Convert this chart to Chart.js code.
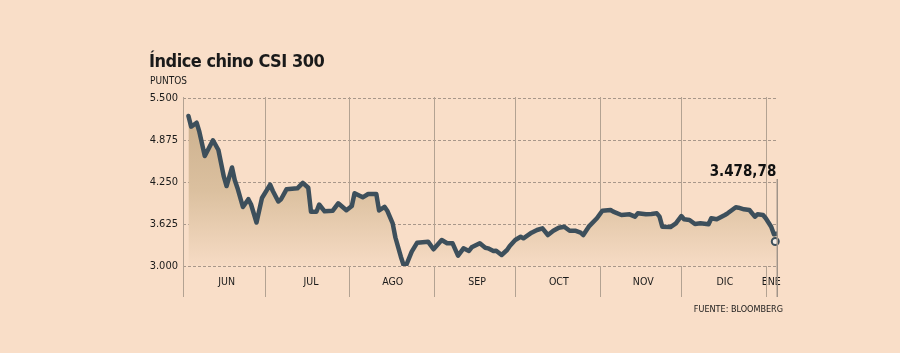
<!DOCTYPE html>
<html lang="es">
<head>
<meta charset="utf-8">
<title>Índice chino CSI 300</title>
<script src="https://cdn.jsdelivr.net/npm/chart.js@4.4.1/dist/chart.umd.min.js"></script>
<style>
    body { margin: 0; background: #f9dec8; }
    #wrap { position: relative; width: 900px; height: 353px; overflow: hidden; }
    #chart { position: absolute; left: 0; top: 0; }
    .txt { position: absolute; font-family: "DejaVu Sans Condensed", "DejaVu Sans", sans-serif; color: #1a1a1a; white-space: nowrap; }
    #title { left: 149px; top: 50px; font-size: 18px; font-weight: bold; letter-spacing: -0.5px; }
    #unit { left: 150px; top: 75px; font-size: 10px; }
    #source { right: 117px; top: 304px; font-size: 9px; }
</style>
</head>
<body>
<div id="wrap">
    <canvas id="chart" width="900" height="353"></canvas>
    <div class="txt" id="title">Índice chino CSI 300</div>
    <div class="txt" id="unit">PUNTOS</div>
    <div class="txt" id="source">FUENTE: BLOOMBERG</div>
</div>

<script>
/* ===================================================== */
/* DATA                                                    */
/* ===================================================== */

// días desde el 1 de junio de 2015
const days = [
    2, 3, 5, 6, 8, 11, 13, 15, 16, 18, 19, 20, 22, 24, 25, 27, 29,
    32, 33, 35, 36, 38, 42, 44, 46, 47, 49, 50, 52, 55, 57, 60,
    62, 63, 66, 68, 71, 72, 74, 75, 77, 78, 80, 81, 82, 84, 86, 90,
    92, 95, 97, 99, 101, 103, 105, 106, 109, 111, 112, 114, 115, 117, 119, 120,
    122, 124, 125, 128, 130, 132, 134, 136, 138, 140, 142, 144, 146, 147, 149,
    152, 154, 157, 158, 161, 164, 166, 167, 170, 172, 174, 175, 176, 179, 181,
    183, 184, 186, 188, 190, 193, 194, 196, 199, 200, 203, 204, 206, 208, 210, 211, 213,
    214, 216, 217, 218
];

const points = [
    5232, 5073, 5132, 4999, 4637, 4871, 4726, 4329, 4190, 4466, 4280, 4161, 3878, 3994, 3915, 3647, 4012,
    4210, 4116, 3960, 3993, 4141, 4156, 4238, 4164, 3808, 3808, 3915, 3814, 3823, 3933, 3829,
    3893, 4082, 4022, 4071, 4071, 3826, 3881, 3823, 3635, 3424, 3138, 3015, 3015, 3213, 3347, 3362,
    3249, 3387, 3338, 3338, 3153, 3263, 3223, 3278, 3338, 3272, 3263, 3223, 3228, 3164, 3238, 3298,
    3387, 3436, 3412, 3496, 3536, 3561, 3461, 3525, 3570, 3585, 3525, 3525, 3496, 3461, 3585,
    3710, 3823, 3833, 3808, 3759, 3769, 3734, 3784, 3769, 3774, 3784, 3734, 3585, 3580, 3635,
    3744, 3695, 3685, 3625, 3635, 3621, 3710, 3695, 3759, 3784, 3874, 3868, 3844, 3833, 3734, 3769, 3759,
    3710, 3585, 3472, 3479
];

const lastDay = 217.5;
const lastMarker = 3365;
const lastLabel = '3.478,78';

const monthStarts = [0, 30, 61, 92, 122, 153, 183, 214];
const monthMids = [16, 47, 77, 108, 138, 169, 199, 216];
const monthLabels = ['JUN', 'JUL', 'AGO', 'SEP', 'OCT', 'NOV', 'DIC', 'ENE'];

const yTicks = [3000, 3625, 4250, 4875, 5500];

/* ===================================================== */
/* HELPERS                                                 */
/* ===================================================== */

const FONT = '"DejaVu Sans Condensed", "DejaVu Sans", sans-serif';
const LINE = '#3d4f5b';

function formatPoints(value) {
    return new Intl.NumberFormat('de-DE').format(value);
}

function areaGradient(context) {
    const { ctx, chartArea } = context.chart;
    if (!chartArea) return 'rgba(0,0,0,0)';
    const g = ctx.createLinearGradient(0, chartArea.top, 0, chartArea.bottom);
    g.addColorStop(0, '#c9ad8a');
    g.addColorStop(0.55, '#dbc09f');
    g.addColorStop(1, '#f6dbc4');
    return g;
}

/* ===================================================== */
/* PLUGINS                                                 */
/* ===================================================== */

const monthLines = {
    id: 'monthLines',
    beforeDatasetsDraw(chart) {
        const { ctx, chartArea, scales } = chart;
        ctx.save();
        ctx.strokeStyle = '#b3a292';
        ctx.lineWidth = 1;
        monthStarts.forEach(d => {
            const x = Math.round(scales.x.getPixelForValue(d)) + 0.5;
            ctx.beginPath();
            ctx.moveTo(x, chartArea.top - 1);
            ctx.lineTo(x, 297);
            ctx.stroke();
        });
        ctx.restore();
    }
};

const lastValue = {
    id: 'lastValue',
    afterDatasetsDraw(chart) {
        const { ctx, scales } = chart;
        const x = scales.x.getPixelForValue(lastDay);
        ctx.save();
        ctx.strokeStyle = '#a09489';
        ctx.lineWidth = 1.5;
        ctx.beginPath();
        ctx.moveTo(x + 2, 179);
        ctx.lineTo(x + 2, 297);
        ctx.stroke();
        ctx.fillStyle = '#111';
        ctx.font = 'bold 15px ' + FONT;
        ctx.textAlign = 'right';
        ctx.textBaseline = 'alphabetic';
        ctx.fillText(lastLabel, x + 1, 176);
        ctx.restore();
    }
};

/* ===================================================== */
/* CHART                                                   */
/* ===================================================== */

new Chart(document.getElementById('chart'), {
    type: 'line',
    data: {
        datasets: [{
            data: days.map((d, i) => ({ x: d, y: points[i] })),
            order: 2,
            borderColor: LINE,
            borderWidth: 4.5,
            borderJoinStyle: 'round',
            borderCapStyle: 'round',
            backgroundColor: areaGradient,
            fill: 'start',
            tension: 0,
            pointRadius: 0
        }, {
            data: [{ x: lastDay, y: lastMarker }],
            order: 1,
            showLine: false,
            clip: false,
            pointRadius: 3.5,
            pointBorderWidth: 2,
            pointBorderColor: LINE,
            pointBackgroundColor: '#f4ede6'
        }]
    },
    options: {
        responsive: false,
        animation: false,
        layout: { padding: { top: 98, right: 122, bottom: 0, left: 0 } },
        plugins: {
            legend: { display: false },
            tooltip: { enabled: false }
        },
        scales: {
            x: {
                type: 'linear',
                min: 0,
                max: 218.5,
                grid: { display: false },
                border: { display: false },
                afterFit: s => { s.height = 87; },
                afterBuildTicks: s => { s.ticks = monthMids.map(v => ({ value: v })); },
                ticks: {
                    autoSkip: false,
                    maxRotation: 0,
                    padding: 2,
                    color: '#1a1a1a',
                    font: { family: FONT, size: 10.5 },
                    callback: (v, i) => monthLabels[i]
                }
            },
            y: {
                min: 3000,
                max: 5500,
                grid: {
                    color: '#a8978a',
                    lineWidth: 1,
                    drawTicks: false
                },
                border: { display: false, dash: [3, 2] },
                afterFit: s => { s.width = 183; },
                afterBuildTicks: s => { s.ticks = yTicks.map(v => ({ value: v })); },
                ticks: {
                    padding: 5,
                    color: '#1a1a1a',
                    font: { family: FONT, size: 11 },
                    callback: v => formatPoints(v)
                }
            }
        }
    },
    plugins: [monthLines, lastValue]
});
</script>
</body>
</html>
